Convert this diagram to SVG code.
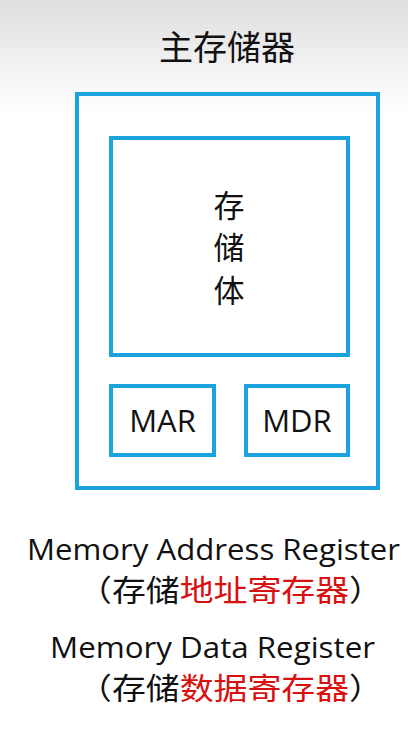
<svg xmlns="http://www.w3.org/2000/svg" width="408" height="745" viewBox="0 0 408 745">
<style>
.box{fill:none;stroke:#1ca3dd;stroke-width:4}
.cjk{font-family:"Noto Sans CJK SC",sans-serif;fill:#111}
.lat{font-family:"Open Sans","Liberation Sans",sans-serif;fill:#111}
.red{fill:#d81010}
</style>
<defs>
<linearGradient id="bg" x1="0" y1="0" x2="0" y2="1">
<stop offset="0" stop-color="#dedede"/>
<stop offset="1" stop-color="#ffffff"/>
</linearGradient>
</defs>
<rect width="408" height="745" fill="#fff"/>
<rect width="408" height="110" fill="url(#bg)"/>
<text id="title" class="cjk" x="227" y="60" font-size="34" text-anchor="middle">主存储器</text>
<g id="main-memory"><rect class="box" x="77" y="94" width="301" height="394"/></g>
<g id="storage">
<rect class="box" x="111" y="138" width="237" height="217"/>
<text class="cjk" x="229" font-size="31" text-anchor="middle"><tspan x="229" y="217">存</tspan><tspan x="229" y="259">储</tspan><tspan x="229" y="302">体</tspan></text>
</g>
<g id="mar">
<rect class="box" x="111" y="386" width="103" height="69"/>
<text class="lat" x="162.5" y="432" font-size="31" text-anchor="middle">MAR</text>
</g>
<g id="mdr">
<rect class="box" x="246" y="386" width="102" height="69"/>
<text class="lat" x="297" y="432" font-size="31" text-anchor="middle">MDR</text>
</g>
<g id="connectors"/>
<g id="notes">
<text class="lat" x="27" y="560" font-size="30" textLength="373" lengthAdjust="spacingAndGlyphs">Memory Address Register</text>
<text class="cjk" x="78" y="601" font-size="30" textLength="305" lengthAdjust="spacingAndGlyphs">（存储<tspan class="red">地址寄存器</tspan>）</text>
<text class="lat" x="50" y="658" font-size="30" textLength="325" lengthAdjust="spacingAndGlyphs">Memory Data Register</text>
<text class="cjk" x="78" y="699" font-size="30" textLength="305" lengthAdjust="spacingAndGlyphs">（存储<tspan class="red">数据寄存器</tspan>）</text>
</g>
</svg>
